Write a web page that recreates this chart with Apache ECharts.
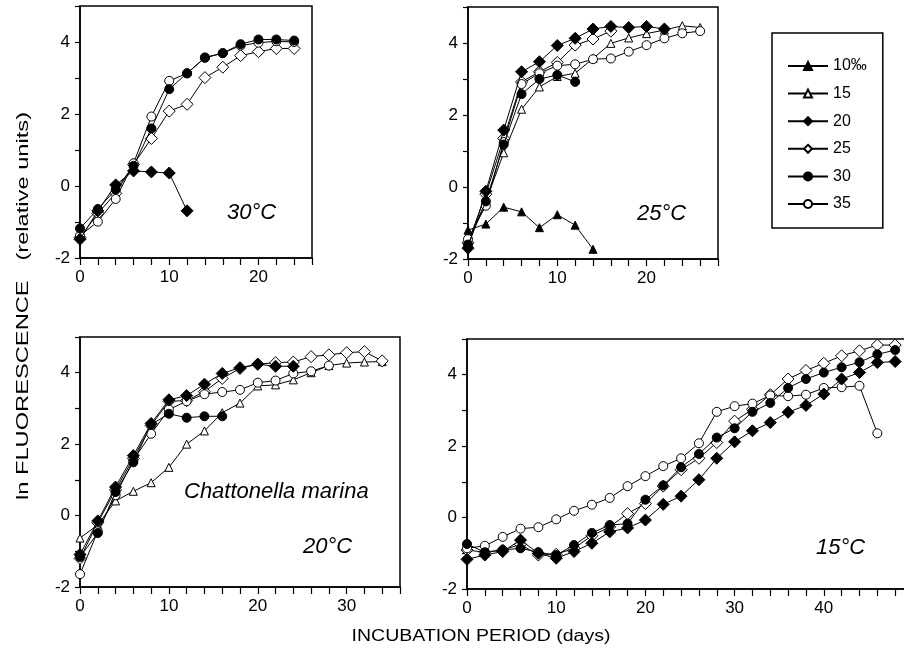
<!DOCTYPE html>
<html>
<head>
<meta charset="utf-8">
<script src="https://cdn.jsdelivr.net/npm/echarts@6/dist/echarts.min.js"></script>
<style>
html,body{margin:0;padding:0;background:#fff;}
#chart{width:904px;height:652px;}
</style>
</head>
<body>
<div id="chart"></div>
<script>
// ---------- DATA ----------
const seriesNames = ['10‰', '15', '20', '25', '30', '35'];
const panelLabels = ['30°C', '25°C', '20°C', '15°C'];
const speciesLabel = 'Chattonella marina';
const yTitle = 'ln FLUORESCENCE   (relative units)';
const xTitle = 'INCUBATION PERIOD (days)';

// 30 °C panel (days)
const days30 = [0, 2, 4, 6, 8, 10, 12, 14, 16, 18, 20, 22, 24];
const p30_s20 = [-1.48, -0.69, 0.03, 0.42, 0.39, 0.36, -0.69];
const p30_s25 = [-1.43, -0.76, -0.2, 0.6, 1.32, 2.08, 2.27, 3.01, 3.3, 3.62, 3.73, 3.82, 3.82];
const p30_s30 = [-1.18, -0.64, -0.1, 0.56, 1.6, 2.69, 3.13, 3.57, 3.69, 3.94, 4.07, 4.07, 4.04];
const p30_s35 = [-1.38, -0.99, -0.36, 0.63, 1.93, 2.92, 3.13, 3.56, 3.69, 3.9, 3.98, 4.02, 4.0];

// 25 °C panel
const days25 = [0, 2, 4, 6, 8, 10, 12, 14, 16, 18, 20, 22, 24, 26];
const p25_s10 = [-1.2, -1.03, -0.56, -0.69, -1.13, -0.77, -1.06, -1.73];
const p25_s15 = [-1.5, -0.4, 0.95, 2.16, 2.78, 3.07, 3.16, 3.57, 3.99, 4.14, 4.26, 4.36, 4.48, 4.43];
const p25_s20 = [-1.7, -0.12, 1.58, 3.2, 3.48, 3.93, 4.13, 4.39, 4.46, 4.43, 4.46, 4.39];
const p25_s25 = [-1.55, -0.2, 1.35, 2.92, 3.2, 3.46, 3.94, 4.11, 4.33];
const p25_s30 = [-1.6, -0.4, 1.18, 2.58, 3.0, 3.11, 2.92];
const p25_s35 = [-1.45, -0.52, 1.25, 2.86, 3.16, 3.37, 3.41, 3.55, 3.57, 3.76, 3.94, 4.13, 4.27, 4.33];

// 20 °C panel
const days20 = [0, 2, 4, 6, 8, 10, 12, 14, 16, 18, 20, 22, 24, 26, 28, 30, 32, 34];
const p20_s15 = [-0.63, -0.26, 0.41, 0.68, 0.92, 1.35, 2.0, 2.37, 2.88, 3.15, 3.63, 3.66, 3.8, 4.0, 4.2, 4.27, 4.3, 4.31];
const p20_s20 = [-1.09, -0.15, 0.8, 1.68, 2.58, 3.24, 3.36, 3.68, 3.98, 4.14, 4.24, 4.18, 4.18];
const p20_s25 = [-1.2, -0.2, 0.72, 1.6, 2.52, 3.2, 3.22, 3.47, 3.84, 4.12, 4.24, 4.28, 4.3, 4.45, 4.5, 4.56, 4.59, 4.33];
const p20_s30 = [-1.16, -0.49, 0.66, 1.49, 2.55, 2.85, 2.74, 2.78, 2.78];
const p20_s35 = [-1.64, -0.44, 0.57, 1.55, 2.29, 2.97, 3.2, 3.4, 3.46, 3.52, 3.72, 3.78, 3.98, 4.04, 4.2];

// 15 °C panel
const days15 = [0, 2, 4, 6, 8, 10, 12, 14, 16, 18, 20, 22, 24, 26, 28, 30, 32, 34, 36, 38, 40, 42, 44, 46, 48];
const p15_s20 = [-1.17, -1.05, -0.95, -0.63, -1.0, -1.14, -0.95, -0.72, -0.4, -0.29, -0.07, 0.37, 0.6, 1.06, 1.66, 2.12, 2.43, 2.66, 2.95, 3.14, 3.46, 3.88, 4.06, 4.34, 4.37];
const p15_s25 = [-0.91, -0.97, -0.91, -0.75, -1.05, -1.03, -0.86, -0.51, -0.26, 0.11, 0.39, 0.88, 1.34, 1.66, 2.1, 2.7, 3.03, 3.44, 3.88, 4.12, 4.32, 4.53, 4.67, 4.83, 4.83];
const p15_s30 = [-0.74, -0.97, -0.91, -0.86, -0.97, -1.05, -0.77, -0.43, -0.21, -0.17, 0.5, 0.9, 1.41, 1.78, 2.24, 2.5, 2.96, 3.21, 3.63, 3.88, 4.06, 4.21, 4.35, 4.57, 4.69];
const p15_s35 = [-0.86, -0.79, -0.54, -0.31, -0.27, -0.05, 0.19, 0.36, 0.55, 0.88, 1.16, 1.44, 1.66, 2.08, 2.96, 3.12, 3.19, 3.42, 3.4, 3.44, 3.63, 3.65, 3.69, 2.36];

// axis ranges per panel
const xMax = [26, 28, 36, 50];
const yMin = -2, yMax = 5;

// ---------- STYLE ----------
const FONT = '"Liberation Sans", Arial, sans-serif';
const sym = {
  '10‰': {symbol: 'triangle', size: 8, fill: '#000'},
  '15':  {symbol: 'triangle', size: 8, fill: '#fff'},
  '20':  {symbol: 'diamond',  size: 12, fill: '#000'},
  '25':  {symbol: 'diamond',  size: 12, fill: '#fff'},
  '30':  {symbol: 'circle',   size: 9, fill: '#000'},
  '35':  {symbol: 'circle',   size: 9, fill: '#fff'}
};

const grids = [
  {left: 80,  top: 6,   width: 232, height: 252},
  {left: 468, top: 7,   width: 250, height: 252},
  {left: 80,  top: 337, width: 320, height: 250},
  {left: 467, top: 339, width: 446, height: 250}
];

function mk(name, gi, days, vals) {
  const s = sym[name];
  return {
    type: 'line', name: name, xAxisIndex: gi, yAxisIndex: gi,
    data: vals.map((v, k) => [days[k], v]),
    symbol: s.symbol, symbolSize: s.size, showSymbol: true,
    itemStyle: {color: s.fill, borderColor: '#000', borderWidth: 1},
    lineStyle: {color: '#000', width: 1},
    emphasis: {disabled: true},
    z: s.fill === '#fff' ? 3 : 4
  };
}

const series = [
  mk('20', 0, days30, p30_s20), mk('25', 0, days30, p30_s25),
  mk('30', 0, days30, p30_s30), mk('35', 0, days30, p30_s35),
  mk('10‰', 1, days25, p25_s10), mk('15', 1, days25, p25_s15),
  mk('20', 1, days25, p25_s20), mk('25', 1, days25, p25_s25),
  mk('30', 1, days25, p25_s30), mk('35', 1, days25, p25_s35),
  mk('15', 2, days20, p20_s15), mk('20', 2, days20, p20_s20),
  mk('25', 2, days20, p20_s25), mk('30', 2, days20, p20_s30),
  mk('35', 2, days20, p20_s35),
  mk('20', 3, days15, p15_s20), mk('25', 3, days15, p15_s25),
  mk('30', 3, days15, p15_s30), mk('35', 3, days15, p15_s35)
];

const xAxes = grids.map((g, i) => ({
  type: 'value', gridIndex: i, min: 0, max: xMax[i], interval: 2,
  axisLine: {show: true, onZero: false, lineStyle: {color: '#000', width: 1.5}},
  axisTick: {show: true, length: 7, lineStyle: {color: '#000', width: 1.2}},
  axisLabel: {margin: 11, color: '#000', fontSize: 17, fontFamily: FONT,
    formatter: v => (v % 10 === 0 && v < 50 ? String(v) : '')},
  splitLine: {show: false}
}));
const yAxes = grids.map((g, i) => ({
  type: 'value', gridIndex: i, min: yMin, max: yMax, interval: 1,
  axisLine: {show: true, onZero: false, lineStyle: {color: '#000', width: 1.5}},
  axisTick: {show: true, length: 5, lineStyle: {color: '#000', width: 1.2}},
  axisLabel: {margin: 10, color: '#000', fontSize: 17, fontFamily: FONT,
    formatter: v => (v % 2 === 0 ? String(v) : '')},
  splitLine: {show: false}
}));

function txt(text, x, y, opts) {
  return Object.assign({
    type: 'text', x: x, y: y, silent: true,
    style: {
      text: text, fill: '#000',
      font: (opts.italic ? 'italic ' : '') + opts.size + 'px ' + FONT,
      textAlign: opts.align || 'left', align: opts.align || 'left',
      textVerticalAlign: 'middle', verticalAlign: 'middle'
    }
  }, opts.extra || {});
}

const graphics = [
  txt(panelLabels[0], 227, 213, {size: 22, italic: true}),
  txt(panelLabels[1], 637, 214, {size: 22, italic: true}),
  txt(panelLabels[2], 303, 547, {size: 22, italic: true}),
  txt(panelLabels[3], 816, 548, {size: 22, italic: true}),
  txt(speciesLabel, 184, 492, {size: 22, italic: true}),
  txt(xTitle, 481, 637, {size: 16, align: 'center', extra: {scaleX: 1.22}}),
  txt(yTitle, 24, 306, {size: 16, align: 'center', extra: {rotation: Math.PI / 2, scaleX: 1.48}})
];

const chart = echarts.init(document.getElementById('chart'), null, {renderer: 'canvas'});
chart.setOption({
  animation: false,
  backgroundColor: '#fff',
  grid: grids.map(g => Object.assign({show: true, borderColor: '#000', borderWidth: 1.5,
    backgroundColor: 'transparent', containLabel: false, outerBoundsMode: 'none'}, g)),
  xAxis: xAxes,
  yAxis: yAxes,
  legend: {
    data: seriesNames,
    orient: 'vertical', left: 772, top: 33,
    padding: [25, 16, 16, 15],
    itemWidth: 40, itemHeight: 10, itemGap: 11.6,
    borderColor: '#000', borderWidth: 1.5,
    textStyle: {color: '#000', fontSize: 16, fontFamily: FONT, lineHeight: 15},
    selectedMode: false
  },
  series: series,
  graphic: graphics
});
</script>
</body>
</html>
